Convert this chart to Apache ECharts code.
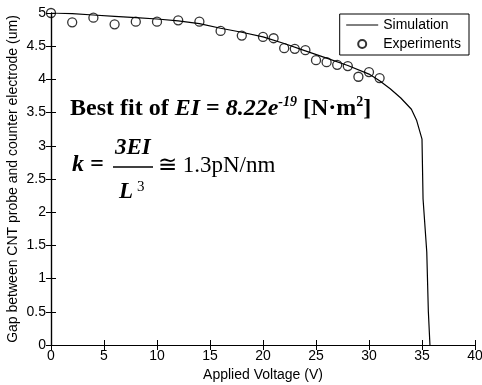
<!DOCTYPE html>
<html>
<head>
<meta charset="utf-8">
<script src="https://cdn.jsdelivr.net/npm/echarts@6/dist/echarts.min.js"></script>
<style>
  html, body { margin: 0; padding: 0; background: #fff; }
  #chart { width: 482px; height: 385px; }
</style>
</head>
<body>
<div id="chart"></div>
<script>
  const expVoltage = [0, 2, 4, 6, 8, 10, 12, 14, 16, 18, 20, 21, 22, 23, 24, 25, 26, 27, 28, 29, 30, 31];
  const expGap = [5.0, 4.86, 4.93, 4.83, 4.87, 4.87, 4.89, 4.87, 4.73, 4.66, 4.64, 4.62, 4.47, 4.46, 4.44, 4.29, 4.26, 4.22, 4.20, 4.04, 4.11, 4.02];

  // simulation curve
  const simVoltage = [0, 2, 4, 6, 8, 10, 12, 14, 16, 18, 20, 22, 24, 26, 28, 30, 31, 32, 33, 34, 34.5, 35, 35.1, 35.45, 35.6, 35.75];
  const simGap = [5.0, 4.99, 4.97, 4.95, 4.93, 4.91, 4.88, 4.84, 4.77, 4.71, 4.64, 4.54, 4.43, 4.32, 4.21, 4.08, 3.98, 3.86, 3.72, 3.55, 3.38, 3.10, 2.2, 1.4, 0.5, 0];

  const xTicks = [0, 40, 5];   // min, max, interval
  const yTicks = [0, 5, 0.5];

  const sans = 'Liberation Sans, Arial, sans-serif';
  const serif = 'Liberation Serif, Times New Roman, serif';

  const zip = (a, b) => a.map((v, i) => [v, b[i]]);

  const chart = echarts.init(document.getElementById('chart'));

  const axisCommon = {
    axisLine: { show: true, lineStyle: { color: '#000', width: 1.2 } },
    axisTick: { show: true, inside: true, length: 5, lineStyle: { color: '#000' } },
    splitLine: { show: false }
  };

  chart.setOption({
    animation: false,
    backgroundColor: '#fff',
    grid: { left: 51, right: 7, top: 13, bottom: 40, outerBoundsMode: 'none', containLabel: false },
    legend: {
      orient: 'vertical',
      right: 13,
      top: 14,
      itemWidth: 32,
      itemHeight: 8,
      itemGap: 5,
      padding: [4, 8, 4, 6],
      borderColor: '#000',
      borderWidth: 1,
      backgroundColor: '#fff',
      textStyle: { fontFamily: sans, fontSize: 14, color: '#000' },
      data: [
        { name: 'Simulation', itemStyle: { opacity: 0 }, lineStyle: { width: 1 } },
        { name: 'Experiments' }
      ]
    },
    xAxis: [
      Object.assign({
        type: 'value', min: xTicks[0], max: xTicks[1], interval: xTicks[2],
        name: 'Applied Voltage (V)', nameLocation: 'middle', nameGap: 23,
        nameTextStyle: { fontFamily: sans, fontSize: 14, color: '#000' },
        axisLabel: { fontFamily: sans, fontSize: 14, color: '#000', margin: 4 }
      }, axisCommon),
      Object.assign({
        type: 'value', position: 'top', min: xTicks[0], max: xTicks[1], interval: xTicks[2],
        axisLabel: { show: false }
      }, axisCommon)
    ],
    yAxis: [
      Object.assign({
        type: 'value', min: yTicks[0], max: yTicks[1], interval: yTicks[2],
        name: 'Gap between CNT probe and counter electrode (um)', nameLocation: 'middle', nameGap: 31,
        nameMoveOverlap: false,
        nameTextStyle: { fontFamily: sans, fontSize: 14, color: '#000' },
        axisLabel: { fontFamily: sans, fontSize: 14, color: '#000', margin: 5 }
      }, axisCommon),
      Object.assign({
        type: 'value', position: 'right', min: yTicks[0], max: yTicks[1], interval: yTicks[2],
        axisLabel: { show: false }
      }, axisCommon)
    ],
    series: [
      {
        name: 'Simulation',
        type: 'line',
        data: zip(simVoltage, simGap),
        showSymbol: false,
        symbol: 'none',
        lineStyle: { color: '#000', width: 1.2 },
        itemStyle: { color: '#000' },
        z: 2
      },
      {
        name: 'Experiments',
        type: 'scatter',
        data: zip(expVoltage, expGap),
        symbol: 'circle',
        symbolSize: 9,
        itemStyle: { color: 'rgba(255,255,255,0)', borderColor: '#000', borderWidth: 1.3 },
        z: 3
      }
    ],
    graphic: [
      {
        type: 'text', left: 70, top: 95,
        style: {
          text: '{b|Best fit of }{bi|EI}{b| = }{bi|8.22e}{sup|-19}{b| [N·m}{sup2|2}{b|]}',
          rich: {
            b: { fontFamily: serif, fontWeight: 'bold', fontSize: 24, color: '#000', lineHeight: 27 },
            bi: { fontFamily: serif, fontWeight: 'bold', fontStyle: 'italic', fontSize: 24, color: '#000', lineHeight: 27 },
            sup: { fontFamily: serif, fontWeight: 'bold', fontStyle: 'italic', fontSize: 14, color: '#000', verticalAlign: 'top', lineHeight: 14 },
            sup2: { fontFamily: serif, fontWeight: 'bold', fontSize: 14, color: '#000', verticalAlign: 'top', lineHeight: 14 }
          }
        }
      },
      {
        type: 'text', left: 72, top: 153,
        style: { text: 'k =', font: 'italic bold 24px ' + serif, fill: '#000' }
      },
      {
        type: 'text', left: 115, top: 137,
        style: { text: '3EI', font: 'italic bold 23px ' + serif, fill: '#000' }
      },
      {
        type: 'line', shape: { x1: 113, y1: 167, x2: 153, y2: 167 },
        style: { stroke: '#000', lineWidth: 1.3 }
      },
      {
        type: 'text', left: 119, top: 180,
        style: {
          text: '{l|L}{s|3}',
          rich: {
            l: { fontFamily: serif, fontWeight: 'bold', fontStyle: 'italic', fontSize: 23, color: '#000', lineHeight: 25 },
            s: { fontFamily: serif, fontSize: 15, color: '#000', verticalAlign: 'top', lineHeight: 15, padding: [0, 0, 0, 4] }
          }
        }
      },
      {
        type: 'text', left: 158, top: 154,
        style: { text: '≅ 1.3pN/nm', font: '23px ' + serif, fill: '#000' }
      }
    ]
  });
</script>
</body>
</html>
